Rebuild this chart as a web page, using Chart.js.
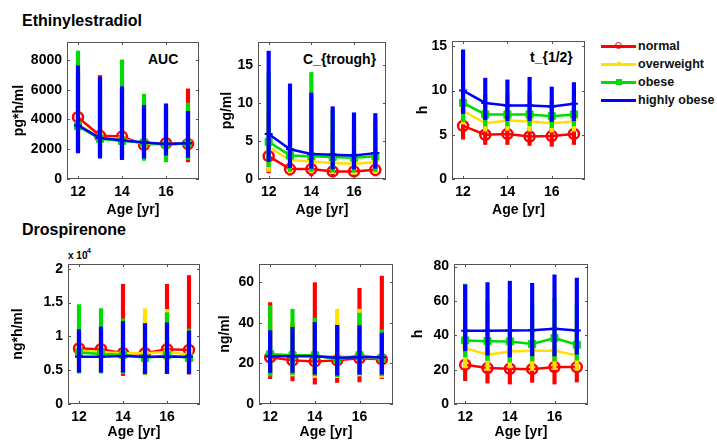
<!DOCTYPE html>
<html><head><meta charset="utf-8">
<script src="https://cdn.jsdelivr.net/npm/chart.js@4.4.1/dist/chart.umd.min.js"></script>
<style>
html,body{margin:0;padding:0;background:#fff;width:717px;height:441px;overflow:hidden;position:relative;font-family:"Liberation Sans",Arial,Helvetica,sans-serif;}
.cv{position:absolute;}
.lbl{position:absolute;white-space:nowrap;font-weight:bold;color:#000;line-height:20px;}
.leg{position:absolute;left:601px;width:120px;height:18px;}
.leg .ln{position:absolute;left:0;top:7.5px;width:35px;height:3px;}
.leg .tx{position:absolute;left:37px;top:0;line-height:18px;font-size:12.5px;font-weight:bold;color:#111;white-space:nowrap;}
.leg .mk{position:absolute;}
</style></head><body>
<div class="lbl" style="left:22px;top:11px;font-size:16px;">Ethinylestradiol</div>
<div class="lbl" style="left:22px;top:220px;font-size:16px;">Drospirenone</div>
<div class="lbl" style="left:148px;top:49px;font-size:14px;">AUC</div>
<div class="lbl" style="left:303px;top:49px;font-size:14px;">C_{trough}</div>
<div class="lbl" style="left:530px;top:47px;font-size:14px;">t_{1/2}</div>
<div class="lbl" style="left:68px;top:246px;font-size:10px;">x 10</div>
<div class="lbl" style="left:87px;top:241px;font-size:7px;">4</div>
<div id="legend"></div>
<script>
// ---------- data ----------
const ages = [12, 13, 14, 15, 16, 17];
const groups = ['normal', 'overweight', 'obese', 'highly obese'];
const xTicks = [12, 14, 16];

// rows: normal, overweight, obese, highly obese
// Ethinylestradiol AUC [pg*h/ml]
const eeAucMean = [
  [4150, 2900, 2850, 2300, 2400, 2350],
  [3700, 2750, 2700, 2350, 2350, 2350],
  [3550, 2700, 2550, 2450, 2300, 2400],
  [3600, 2750, 2600, 2450, 2350, 2400]];
const eeAucLow = [
  [1900, 1500, 1400, 1400, 1300, 1150],
  [1900, 1500, 1400, 1400, 1300, 1300],
  [1800, 1450, 1350, 1250, 1150, 1300],
  [1750, 1400, 1300, 1400, 1600, 1450]];
const eeAucHigh = [
  [7000, 6950, 6000, 4800, 4800, 6050],
  [7000, 6500, 5800, 4800, 4600, 4700],
  [8600, 6500, 8000, 5700, 4900, 5100],
  [7600, 6850, 6200, 4950, 5050, 4550]];
const eeAucTicks = [0, 2000, 4000, 6000, 8000];

// Ethinylestradiol C_trough [pg/ml]
const eeCtMean = [
  [3.0, 1.3, 1.3, 1.0, 1.0, 1.2],
  [4.2, 2.5, 2.3, 2.1, 2.0, 2.2],
  [4.9, 3.1, 3.0, 2.9, 2.8, 3.0],
  [5.9, 3.9, 3.3, 3.2, 3.1, 3.4]];
const eeCtLow = [
  [0.8, 0.5, 0.4, 0.3, 0.3, 0.4],
  [1.0, 0.8, 0.8, 0.7, 0.6, 0.7],
  [1.6, 1.0, 1.0, 0.9, 0.9, 1.0],
  [2.3, 1.5, 1.4, 1.3, 1.3, 1.4]];
const eeCtHigh = [
  [9.0, 7.0, 8.0, 6.0, 6.0, 6.0],
  [12.0, 9.0, 10.0, 8.0, 7.0, 7.0],
  [14.0, 11.0, 14.0, 9.0, 8.0, 8.0],
  [16.8, 12.5, 11.3, 9.5, 8.7, 8.6]];
const eeCtTicks = [0, 5, 10, 15];

// Ethinylestradiol t_1/2 [h]
const eeThMean = [
  [6.0, 5.0, 5.1, 4.8, 4.85, 5.1],
  [7.7, 6.3, 6.6, 6.5, 6.3, 6.5],
  [8.6, 7.3, 7.3, 7.3, 7.1, 7.3],
  [10.0, 8.6, 8.3, 8.3, 8.2, 8.5]];
const eeThLow = [
  [4.5, 3.9, 3.9, 3.8, 3.7, 3.9],
  [6.2, 5.4, 5.5, 5.4, 5.3, 5.4],
  [6.5, 6.0, 6.0, 6.0, 5.8, 6.0],
  [7.4, 6.7, 6.6, 6.6, 6.5, 6.6]];
const eeThHigh = [
  [7.0, 6.0, 6.2, 5.8, 5.8, 6.2],
  [9.5, 7.8, 8.0, 8.0, 7.6, 7.9],
  [11.0, 9.5, 9.6, 9.8, 8.8, 9.4],
  [14.6, 11.4, 11.2, 11.5, 10.4, 10.9]];
const eeThTicks = [0, 5, 10, 15];

// Drospirenone AUC [ng*h/ml]
const drAucMean = [
  [8200, 8100, 7500, 7500, 8100, 8000],
  [7900, 7700, 7500, 7500, 7700, 7300],
  [7600, 7400, 7300, 6800, 7200, 6800],
  [7000, 7000, 7100, 7000, 7000, 7000]];
const drAucLow = [
  [4600, 4600, 4200, 4400, 4500, 4400],
  [4600, 4600, 4500, 4400, 4500, 4500],
  [4600, 4600, 4500, 4400, 4500, 4500],
  [4700, 4700, 4700, 4500, 4500, 4500]];
const drAucHigh = [
  [10800, 11000, 17700, 13000, 17700, 19000],
  [10500, 11000, 12000, 14100, 14000, 10500],
  [14700, 14100, 12600, 11500, 13500, 11100],
  [11000, 11400, 12200, 11900, 12000, 10800]];
const drAucTicks = [0, 5000, 10000, 15000, 20000];
const drAucTickLabels = ['0', '0.5', '1', '1.5', '2'];

// Drospirenone C_trough [ng/ml]
const drCtMean = [
  [23.0, 21.5, 21.0, 21.5, 22.5, 22.0],
  [24.5, 24.0, 23.5, 23.5, 23.0, 22.5],
  [24.5, 24.0, 24.0, 22.0, 24.0, 22.5],
  [23.5, 23.5, 23.5, 22.8, 23.0, 23.0]];
const drCtLow = [
  [12.5, 11.4, 9.8, 10.6, 10.9, 12.5],
  [14.0, 13.8, 13.0, 13.0, 13.8, 13.0],
  [13.8, 14.5, 14.0, 13.5, 14.5, 14.0],
  [15.5, 15.5, 14.7, 14.2, 14.7, 14.7]];
const drCtHigh = [
  [50.0, 40.0, 59.8, 40.0, 57.0, 63.0],
  [40.0, 40.0, 41.0, 46.7, 46.7, 34.0],
  [48.4, 46.7, 42.3, 38.0, 44.8, 36.6],
  [36.2, 37.8, 40.2, 38.8, 38.6, 35.0]];
const drCtTicks = [0, 20, 40, 60];

// Drospirenone t_1/2 [h]
const drThMean = [
  [22.9, 20.9, 20.5, 20.3, 21.5, 21.5],
  [32.5, 28.7, 30.6, 31.0, 31.0, 28.3],
  [37.0, 36.6, 36.4, 35.0, 38.4, 34.5],
  [42.6, 42.6, 42.8, 43.0, 43.8, 42.8]];
const drThLow = [
  [13.6, 12.2, 11.6, 12.6, 11.6, 12.8],
  [21.0, 19.5, 21.0, 19.5, 20.0, 19.5],
  [27.4, 25.4, 24.4, 25.0, 25.0, 25.5],
  [31.0, 28.4, 27.4, 28.0, 28.0, 29.0]];
const drThHigh = [
  [35.0, 32.0, 32.0, 32.0, 33.0, 33.0],
  [50.0, 45.0, 48.0, 48.0, 48.0, 45.0],
  [69.8, 60.0, 60.0, 58.0, 62.0, 58.0],
  [69.4, 70.7, 71.5, 70.3, 75.2, 73.3]];
const drThTicks = [0, 20, 40, 60, 80];

// ---------- styles ----------
const colors = ['#ff0000', '#ffe000', '#00dc00', '#0000ff'];
const markers = [
  {pointStyle: 'circle', pointRadius: 5, pointBorderWidth: 2.5, pointBackgroundColor: 'rgba(0,0,0,0)'},
  {pointStyle: 'triangle', pointRotation: 180, pointRadius: 3, pointBorderWidth: 1.5, pointBackgroundColor: '#ffe000'},
  {pointStyle: 'rect', pointRadius: 5, pointBorderWidth: 1, pointBackgroundColor: '#00dc00'},
  {pointStyle: 'cross', pointRadius: 4, pointBorderWidth: 2, pointBackgroundColor: '#0000ff'}
];
const FONT = '"Liberation Sans", Arial, Helvetica, sans-serif';
const PADL = 60, PADT = 20, PADR = 15, PADB = 45;

const boxPlugin = {
  id: 'box',
  afterDraw(chart) {
    const {ctx, chartArea: a, scales: {x, y}} = chart;
    ctx.save();
    ctx.strokeStyle = '#555';
    ctx.lineWidth = 1;
    ctx.strokeRect(a.left + 0.5, a.top + 0.5, a.right - a.left - 1, a.bottom - a.top - 1);
    ctx.beginPath();
    x.ticks.forEach(t => {
      const px = Math.round(x.getPixelForValue(t.value)) + 0.5;
      ctx.moveTo(px, a.bottom); ctx.lineTo(px, a.bottom - 3);
      ctx.moveTo(px, a.top); ctx.lineTo(px, a.top + 3);
    });
    y.ticks.forEach(t => {
      const py = Math.round(y.getPixelForValue(t.value)) + 0.5;
      ctx.moveTo(a.left, py); ctx.lineTo(a.left + 3, py);
      ctx.moveTo(a.right, py); ctx.lineTo(a.right - 3, py);
    });
    ctx.stroke();
    ctx.restore();
  }
};

function buildPanel(p) {
  const W = p.rect[2] - p.rect[0] + PADL + PADR;
  const H = p.rect[3] - p.rect[1] + PADT + PADB;
  const canvas = document.createElement('canvas');
  canvas.width = W; canvas.height = H;
  canvas.className = 'cv';
  canvas.style.left = (p.rect[0] - PADL) + 'px';
  canvas.style.top = (p.rect[1] - PADT) + 'px';
  canvas.style.width = W + 'px'; canvas.style.height = H + 'px';
  document.body.appendChild(canvas);
  const datasets = [];
  groups.forEach((g, k) => {
    datasets.push({
      type: 'bar', label: g + ' range',
      data: ages.map((a, i) => ({x: a, y: [p.low[k][i], p.high[k][i]]})),
      backgroundColor: colors[k], borderWidth: 0, barThickness: 3.5, grouped: false,
      order: 10 - 2 * k
    });
    datasets.push(Object.assign({
      type: 'line', label: g,
      data: ages.map((a, i) => ({x: a, y: p.mean[k][i]})),
      borderColor: colors[k], borderWidth: 2.5, tension: 0, fill: false,
      pointBorderColor: colors[k], order: 9 - 2 * k
    }, markers[k]));
  });
  const tickFont = {family: FONT, size: 14, weight: 'bold'};
  new Chart(canvas, {
    type: 'bar',
    data: {datasets},
    options: {
      responsive: false, animation: false, devicePixelRatio: 1,
      layout: {padding: {left: 0, top: PADT, right: PADR, bottom: 0}},
      plugins: {legend: {display: false}, tooltip: {enabled: false}},
      scales: {
        x: {
          type: 'linear', min: 11.5, max: 17.5, offset: false,
          grid: {display: false, drawTicks: false}, border: {display: false},
          afterBuildTicks: s => { s.ticks = xTicks.map(v => ({value: v})); },
          afterFit: s => { s.height = PADB; },
          ticks: {padding: 5, color: '#000', font: tickFont, maxRotation: 0, callback: v => String(v)},
          title: {display: true, text: 'Age [yr]', color: '#000', font: tickFont, padding: {top: 0, bottom: p.xTitlePad}}
        },
        y: {
          type: 'linear', min: 0, max: p.yMax,
          grid: {display: false, drawTicks: false}, border: {display: false},
          afterBuildTicks: s => { s.ticks = p.yTicks.map(v => ({value: v})); },
          afterFit: s => { s.width = PADL; },
          ticks: {padding: 5, color: '#000', font: tickFont,
                  callback: (v, i) => p.yTickLabels ? p.yTickLabels[i] : String(v)},
          title: {display: true, text: p.yTitle, color: '#000', font: tickFont, padding: {top: p.yTitlePad, bottom: 0}}
        }
      }
    },
    plugins: [boxPlugin]
  });
}

const panels = [
  {rect: [67, 42, 199, 179], yMax: 9200, yTicks: eeAucTicks, yTitle: 'pg*h/ml', yTitlePad: 3.6, xTitlePad: 5,
   mean: eeAucMean, low: eeAucLow, high: eeAucHigh},
  {rect: [258, 42, 386, 179], yMax: 18, yTicks: eeCtTicks, yTitle: 'pg/ml', yTitlePad: 20.6, xTitlePad: 5,
   mean: eeCtMean, low: eeCtLow, high: eeCtHigh},
  {rect: [452, 41, 585, 179], yMax: 15.6, yTicks: eeThTicks, yTitle: 'h', yTitlePad: 22.6, xTitlePad: 5,
   mean: eeThMean, low: eeThLow, high: eeThHigh},
  {rect: [68, 264, 200, 404], yMax: 20700, yTicks: drAucTicks, yTickLabels: drAucTickLabels, yTitle: 'ng*h/ml', yTitlePad: 1.6, xTitlePad: 8.6,
   mean: drAucMean, low: drAucLow, high: drAucHigh},
  {rect: [259, 264, 393, 404], yMax: 69, yTicks: drCtTicks, yTitle: 'ng/ml', yTitlePad: 17.6, xTitlePad: 8.6,
   mean: drCtMean, low: drCtLow, high: drCtHigh},
  {rect: [454, 264, 588, 404], yMax: 81.5, yTicks: drThTicks, yTitle: 'h', yTitlePad: 15.6, xTitlePad: 8.6,
   mean: drThMean, low: drThLow, high: drThHigh}
];
panels.forEach(buildPanel);

// ---------- legend ----------
const legTops = [37, 55, 73, 91];
const legMarkers = [
  'left:14px;top:5px;width:5px;height:5px;border:1.5px solid #ff0000;border-radius:50%;',
  'left:15.5px;top:6.5px;width:4px;height:4px;background:#ffe000;',
  'left:14.5px;top:5.5px;width:6px;height:6px;background:#00dc00;',
  ''
];
const legend = document.getElementById('legend');
groups.forEach((g, k) => {
  const row = document.createElement('div');
  row.className = 'leg';
  row.style.top = legTops[k] + 'px';
  row.innerHTML = '<div class="ln" style="background:' + colors[k] + '"></div>' +
    (legMarkers[k] ? '<div class="mk" style="' + legMarkers[k] + '"></div>' : '') +
    '<div class="tx">' + g + '</div>';
  legend.appendChild(row);
});
</script>
</body></html>
